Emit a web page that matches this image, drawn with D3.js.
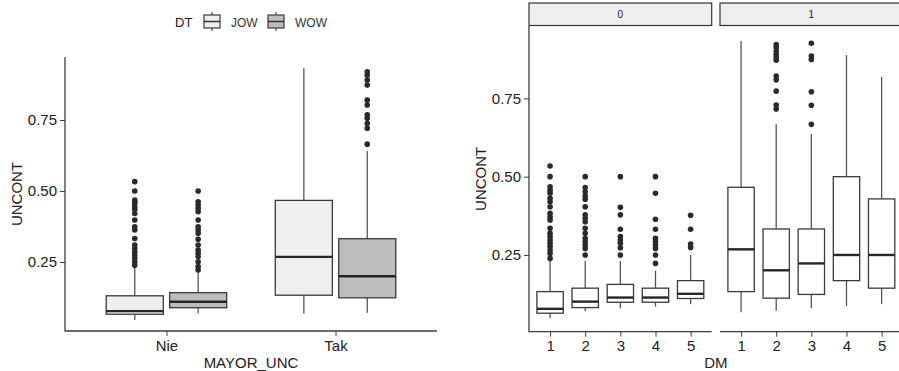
<!DOCTYPE html>
<html>
<head>
<meta charset="utf-8">
<script src="https://cdn.jsdelivr.net/npm/d3@7"></script>
<style>
  body { margin: 0; background: #fff; }
  text { font-family: "Liberation Sans", Arial, sans-serif; }
</style>
</head>
<body>
<div id="chart"></div>
<script>
// left plot: UNCONT by MAYOR_UNC, dodged by DT
const leftCategories = ["Nie", "Tak"];
const leftSeries = ["JOW", "WOW"];
// each box: [lower whisker, q1, median, q3, upper whisker]
const leftBoxJOW = [[0.046, 0.066, 0.077, 0.131, 0.239], [0.069, 0.133, 0.268, 0.467, 0.932]];
const leftBoxWOW = [[0.069, 0.089, 0.110, 0.142, 0.219], [0.071, 0.124, 0.200, 0.332, 0.641]];
const leftOutJOW = [
  [0.533, 0.5, 0.468, 0.462, 0.457, 0.445, 0.435, 0.421, 0.398, 0.374, 0.363, 0.333, 0.31, 0.298, 0.286, 0.275, 0.263, 0.251, 0.239],
  []
];
const leftOutWOW = [
  [0.5, 0.462, 0.451, 0.439, 0.427, 0.398, 0.374, 0.363, 0.351, 0.33, 0.31, 0.292, 0.281, 0.269, 0.251, 0.234, 0.222],
  [0.92, 0.908, 0.891, 0.873, 0.82, 0.803, 0.768, 0.756, 0.738, 0.721, 0.665]
];
const yTicks = [0.25, 0.5, 0.75];

// right plot: UNCONT by DM, faceted
const facets = ["0", "1"];
const dmCategories = ["1", "2", "3", "4", "5"];
const rightBox0 = [
  [0.048, 0.064, 0.078, 0.133, 0.234],
  [0.071, 0.082, 0.101, 0.144, 0.231],
  [0.080, 0.099, 0.114, 0.156, 0.231],
  [0.085, 0.099, 0.114, 0.144, 0.200],
  [0.093, 0.111, 0.126, 0.168, 0.250]
];
const rightBox1 = [
  [0.067, 0.133, 0.268, 0.466, 0.933],
  [0.072, 0.112, 0.201, 0.333, 0.667],
  [0.080, 0.124, 0.223, 0.333, 0.636],
  [0.087, 0.168, 0.250, 0.500, 0.888],
  [0.093, 0.144, 0.250, 0.429, 0.818]
];
const rightOut0 = [
  [0.534, 0.5, 0.468, 0.457, 0.447, 0.431, 0.42, 0.404, 0.383, 0.372, 0.362, 0.335, 0.319, 0.309, 0.298, 0.287, 0.277, 0.266, 0.255, 0.239],
  [0.5, 0.465, 0.452, 0.438, 0.428, 0.404, 0.378, 0.367, 0.356, 0.335, 0.319, 0.303, 0.293, 0.282, 0.271, 0.25],
  [0.5, 0.402, 0.378, 0.332, 0.309, 0.298, 0.287, 0.273, 0.25],
  [0.5, 0.447, 0.364, 0.332, 0.303, 0.293, 0.282, 0.271, 0.25, 0.223],
  [0.377, 0.332, 0.285, 0.274]
];
const rightOut1 = [
  [],
  [0.922, 0.912, 0.901, 0.891, 0.881, 0.872, 0.821, 0.809, 0.773, 0.729, 0.716],
  [0.926, 0.885, 0.874, 0.771, 0.728, 0.667],
  [],
  []
];

const W = 899, H = 371;
const svg = d3.select("#chart").append("svg").attr("width", W).attr("height", H);

const axisColor = "#3c3c3c";
const boxStroke = "#3a3a3a";
const textColor = "#222";

function drawBox(g, cx, bw, s, y, fill) {
  const [lo, q1, med, q3, hi] = s;
  g.append("line").attr("x1", cx).attr("x2", cx).attr("y1", y(hi)).attr("y2", y(q3))
    .attr("stroke", "#555").attr("stroke-width", 1.3);
  g.append("line").attr("x1", cx).attr("x2", cx).attr("y1", y(q1)).attr("y2", y(lo))
    .attr("stroke", "#555").attr("stroke-width", 1.3);
  g.append("rect").attr("x", cx - bw / 2).attr("width", bw)
    .attr("y", y(q3)).attr("height", y(q1) - y(q3))
    .attr("fill", fill).attr("stroke", boxStroke).attr("stroke-width", 1.3);
  g.append("line").attr("x1", cx - bw / 2).attr("x2", cx + bw / 2)
    .attr("y1", y(med)).attr("y2", y(med))
    .attr("stroke", "#262626").attr("stroke-width", 2.4);
}

function drawOutliers(g, cx, vals, y) {
  g.selectAll(null).data(vals).enter().append("circle")
    .attr("cx", cx).attr("cy", d => y(d)).attr("r", 2.8).attr("fill", "#2a2a2a");
}

function styleAxis(sel, fs) {
  sel.select(".domain").remove();
  sel.selectAll(".tick line").attr("stroke", axisColor).attr("stroke-width", 1);
  sel.selectAll(".tick text").attr("fill", textColor).style("font-size", fs + "px")
    .style("font-family", "Liberation Sans, Arial, sans-serif");
}

// ---------- left plot ----------
const L = { left: 65, right: 437, top: 57, bottom: 331 };
const yL = d3.scaleLinear().domain([0.007, 0.972]).range([L.bottom, L.top]);
const xL = d3.scalePoint().domain(leftCategories).range([L.left, L.right]).padding(0.6);
const stepL = xL.step();
const dodge = d3.scaleBand().domain(leftSeries)
  .range([-0.375 * stepL, 0.375 * stepL]).paddingInner(0.1).paddingOuter(0.05);
const fills = { JOW: "#efefef", WOW: "#bdbdbd" };

const gL = svg.append("g");
const seriesBoxes = { JOW: leftBoxJOW, WOW: leftBoxWOW };
const seriesOut = { JOW: leftOutJOW, WOW: leftOutWOW };
leftCategories.forEach((c, i) => {
  leftSeries.forEach(s => {
    const cx = xL(c) + dodge(s) + dodge.bandwidth() / 2;
    drawBox(gL, cx, dodge.bandwidth(), seriesBoxes[s][i], yL, fills[s]);
    drawOutliers(gL, cx, seriesOut[s][i], yL);
  });
});

const axL = svg.append("g").attr("transform", `translate(${L.left},0)`)
  .call(d3.axisLeft(yL).tickValues(yTicks).tickFormat(d3.format(".2f")).tickSize(5).tickPadding(3));
styleAxis(axL, 15);
const axLB = svg.append("g").attr("transform", `translate(0,${L.bottom})`)
  .call(d3.axisBottom(xL).tickSize(5).tickPadding(4));
styleAxis(axLB, 15);
svg.append("line").attr("x1", L.left).attr("x2", L.left).attr("y1", L.top).attr("y2", L.bottom + 0.5)
  .attr("stroke", axisColor).attr("stroke-width", 1.3);
svg.append("line").attr("x1", L.left).attr("x2", L.right).attr("y1", L.bottom).attr("y2", L.bottom)
  .attr("stroke", axisColor).attr("stroke-width", 1.3);

svg.append("text").attr("x", (L.left + L.right) / 2).attr("y", 368)
  .attr("text-anchor", "middle").attr("fill", textColor).style("font-size", "15px").text("MAYOR_UNC");
svg.append("text").attr("transform", `translate(21.5,${(L.top + L.bottom) / 2}) rotate(-90)`)
  .attr("text-anchor", "middle").attr("fill", textColor).style("font-size", "15px").text("UNCONT");

// legend
const lg = svg.append("g");
lg.append("text").attr("x", 175).attr("y", 27).attr("fill", textColor).style("font-size", "13px").text("DT");
const legendX = { JOW: 204, WOW: 268 };
leftSeries.forEach(s => {
  const x0 = legendX[s], kw = 16, cx = x0 + kw / 2;
  lg.append("line").attr("x1", cx).attr("x2", cx).attr("y1", 12).attr("y2", 31)
    .attr("stroke", "#555").attr("stroke-width", 1.2);
  lg.append("rect").attr("x", x0).attr("y", 15).attr("width", kw).attr("height", 13)
    .attr("fill", fills[s]).attr("stroke", boxStroke).attr("stroke-width", 1.2);
  lg.append("line").attr("x1", x0).attr("x2", x0 + kw).attr("y1", 21.5).attr("y2", 21.5)
    .attr("stroke", "#333").attr("stroke-width", 1.5);
  lg.append("text").attr("x", x0 + 27).attr("y", 26.5).attr("fill", "#333")
    .style("font-size", "12px").text(s);
});

// ---------- right plot ----------
const R = { top: 26, bottom: 331.7 };
const panelX = { "0": [529, 711.7], "1": [720, 902.7] };
const yR = d3.scaleLinear().domain([0.005, 0.981]).range([R.bottom, R.top]);
const rightBoxes = { "0": rightBox0, "1": rightBox1 };
const rightOuts = { "0": rightOut0, "1": rightOut1 };

facets.forEach(f => {
  const [px0, px1] = panelX[f];
  const xR = d3.scalePoint().domain(dmCategories).range([px0, px1]).padding(0.6);
  const bw = 0.75 * xR.step();
  const g = svg.append("g");
  dmCategories.forEach((c, i) => {
    drawBox(g, xR(c), bw, rightBoxes[f][i], yR, "#ffffff");
    drawOutliers(g, xR(c), rightOuts[f][i], yR);
  });
  // strip
  svg.append("rect").attr("x", px0).attr("y", 3).attr("width", px1 - px0).attr("height", 22.5)
    .attr("fill", "#eeeeee").attr("stroke", "#333").attr("stroke-width", 1.2);
  svg.append("text").attr("x", (px0 + px1) / 2).attr("y", 18).attr("text-anchor", "middle")
    .attr("fill", "#222").style("font-size", "10px").text(f);
  // x axis
  const ax = svg.append("g").attr("transform", `translate(0,${R.bottom})`)
    .call(d3.axisBottom(xR).tickSize(5).tickPadding(4));
  styleAxis(ax, 15);
  svg.append("line").attr("x1", px0).attr("x2", px1).attr("y1", R.bottom).attr("y2", R.bottom)
    .attr("stroke", axisColor).attr("stroke-width", 1.3);
});

const axR = svg.append("g").attr("transform", `translate(${panelX["0"][0]},0)`)
  .call(d3.axisLeft(yR).tickValues(yTicks).tickFormat(d3.format(".2f")).tickSize(5).tickPadding(3));
styleAxis(axR, 15);
svg.append("line").attr("x1", panelX["0"][0]).attr("x2", panelX["0"][0]).attr("y1", R.top).attr("y2", R.bottom + 0.5)
  .attr("stroke", axisColor).attr("stroke-width", 1.3);

svg.append("text").attr("x", (panelX["0"][0] + panelX["1"][1]) / 2).attr("y", 368)
  .attr("text-anchor", "middle").attr("fill", textColor).style("font-size", "15px").text("DM");
svg.append("text").attr("transform", `translate(485.5,${(R.top + R.bottom) / 2}) rotate(-90)`)
  .attr("text-anchor", "middle").attr("fill", textColor).style("font-size", "15px").text("UNCONT");
</script>
</body>
</html>
